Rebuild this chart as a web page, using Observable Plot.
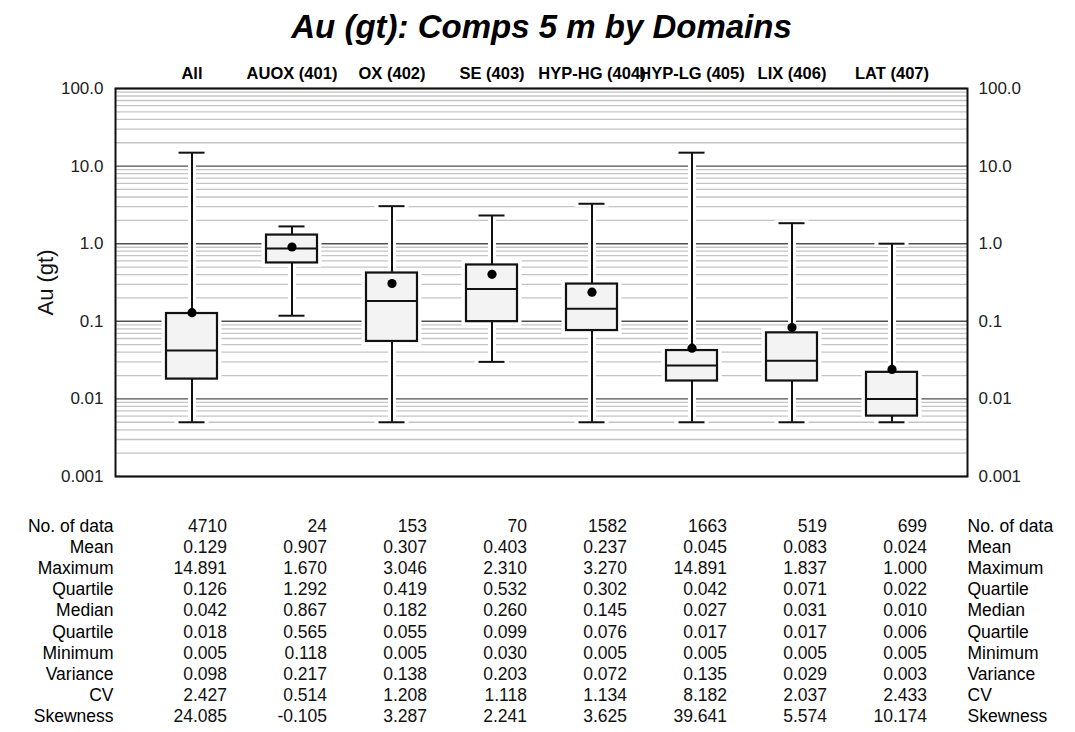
<!DOCTYPE html>
<html>
<head>
<meta charset="utf-8">
<script src="https://cdn.jsdelivr.net/npm/d3@7"></script>
<script src="https://cdn.jsdelivr.net/npm/@observablehq/plot@0.6"></script>
<style>
  html, body { margin: 0; padding: 0; background: #fff; }
  #chart svg { display: block; font-family: "Liberation Sans", Arial, Helvetica, sans-serif; }
</style>
</head>
<body>
<div id="chart"></div>
<script>
// Domains and per-domain statistics of Au (gt), 5 m composites
const domains = ["All", "AUOX (401)", "OX (402)", "SE (403)", "HYP-HG (404)", "HYP-LG (405)", "LIX (406)", "LAT (407)"];
const counts = [4710, 24, 153, 70, 1582, 1663, 519, 699];
const means = [0.129, 0.907, 0.307, 0.403, 0.237, 0.045, 0.083, 0.024];
const maxima = [14.891, 1.670, 3.046, 2.310, 3.270, 14.891, 1.837, 1.000];
const upperQuartiles = [0.126, 1.292, 0.419, 0.532, 0.302, 0.042, 0.071, 0.022];
const medians = [0.042, 0.867, 0.182, 0.260, 0.145, 0.027, 0.031, 0.010];
const lowerQuartiles = [0.018, 0.565, 0.055, 0.099, 0.076, 0.017, 0.017, 0.006];
const minima = [0.005, 0.118, 0.005, 0.030, 0.005, 0.005, 0.005, 0.005];
const variances = [0.098, 0.217, 0.138, 0.203, 0.072, 0.135, 0.029, 0.003];
const cvs = [2.427, 0.514, 1.208, 1.118, 1.134, 8.182, 2.037, 2.433];
const skewnesses = [24.085, -0.105, 3.287, 2.241, 3.625, 39.641, 5.574, 10.174];

// Axis ticks and their printed labels
const yTicks = [0.001, 0.01, 0.1, 1, 10, 100];
const yTickLabels = ["0.001", "0.01", "0.1", "1.0", "10.0", "100.0"];

const title = "Au (gt): Comps 5 m by Domains";
const yLabel = "Au (gt)";

// Statistics table below the plot
const rowLabels = ["No. of data", "Mean", "Maximum", "Quartile", "Median", "Quartile", "Minimum", "Variance", "CV", "Skewness"];
const rowValues = [counts, means, maxima, upperQuartiles, medians, lowerQuartiles, minima, variances, cvs, skewnesses];

const boxes = domains.map((d, i) => ({
  domain: d,
  min: minima[i], q1: lowerQuartiles[i], median: medians[i],
  q3: upperQuartiles[i], max: maxima[i], mean: means[i]
}));

// Light grid at 2..9 of each decade, darker grid at each decade
const minorGrid = d3.scaleLog().domain([0.001, 100]).ticks().filter(v => !yTicks.some(t => Math.abs(t - v) < t * 1e-9));

const fmt = (v, r) => r === 0 ? String(v) : v.toFixed(3);

const rowStep = 21.2;
const rowStart = 55;
const tableFont = 17.5;

const tableMarks = [];
rowValues.forEach((values, r) => {
  const rows = domains.map((d, i) => ({domain: d, text: fmt(values[i], r)}));
  tableMarks.push(
    Plot.text(rows, {x: "domain", text: "text", frameAnchor: "bottom", dy: rowStart + r * rowStep, dx: 35, textAnchor: "end", fontSize: tableFont, fill: "#111"}),
    Plot.text([rowLabels[r]], {text: d => d, frameAnchor: "bottom-left", dy: rowStart + r * rowStep, dx: -2, textAnchor: "end", fontSize: tableFont, fill: "#000"}),
    Plot.text([rowLabels[r]], {text: d => d, frameAnchor: "bottom-right", dy: rowStart + r * rowStep, dx: 0, textAnchor: "start", fontSize: tableFont, fill: "#000"})
  );
});

const capInset = 12.5;

const chart = Plot.plot({
  width: 1075,
  height: 732,
  marginLeft: 115,
  marginRight: 108,
  marginTop: 88,
  marginBottom: 256,
  style: {fontFamily: "'Liberation Sans', Arial, Helvetica, sans-serif", color: "#000", background: "#fff", overflow: "visible"},
  x: {type: "band", domain: domains, paddingInner: 0.49, paddingOuter: 0.5},
  y: {type: "log", domain: [0.001, 100]},
  marks: [
    Plot.ruleY(minorGrid, {stroke: "#c4c4c4", strokeWidth: 1.3}),
    Plot.ruleY(yTicks, {stroke: "#505050", strokeWidth: 1.4}),
    // white halos that break the grid around each box and whisker
    Plot.ruleX(boxes, {x: "domain", y1: "min", y2: "max", stroke: "#fff", strokeWidth: 8}),
    Plot.tickY(boxes, {x: "domain", y: "min", stroke: "#fff", strokeWidth: 6, insetLeft: capInset - 4, insetRight: capInset - 4}),
    Plot.tickY(boxes, {x: "domain", y: "max", stroke: "#fff", strokeWidth: 6, insetLeft: capInset - 4, insetRight: capInset - 4}),
    Plot.barY(boxes, {x: "domain", y1: "q1", y2: "q3", fill: "#fff", stroke: "#fff", strokeWidth: 9}),
    // whiskers and caps
    Plot.ruleX(boxes, {x: "domain", y1: "min", y2: "max", stroke: "#111", strokeWidth: 2}),
    Plot.tickY(boxes, {x: "domain", y: "min", stroke: "#111", strokeWidth: 2, insetLeft: capInset, insetRight: capInset}),
    Plot.tickY(boxes, {x: "domain", y: "max", stroke: "#111", strokeWidth: 2, insetLeft: capInset, insetRight: capInset}),
    // interquartile boxes, medians and means
    Plot.barY(boxes, {x: "domain", y1: "q1", y2: "q3", fill: "#f3f3f3", stroke: "#111", strokeWidth: 2.2}),
    Plot.tickY(boxes, {x: "domain", y: "median", stroke: "#111", strokeWidth: 2}),
    Plot.dot(boxes, {x: "domain", y: "mean", r: 4.6, fill: "#000", stroke: null}),
    Plot.frame({stroke: "#111", strokeWidth: 2}),
    Plot.axisY({anchor: "left", ticks: yTicks, tickFormat: d => yTickLabels[yTicks.indexOf(d)], tickSize: 0, tickPadding: 12, label: null, fontSize: 17, fill: "#222"}),
    Plot.axisY({anchor: "right", ticks: yTicks, tickFormat: d => yTickLabels[yTicks.indexOf(d)], tickSize: 0, tickPadding: 11, label: null, fontSize: 17, fill: "#222"}),
    Plot.axisX({anchor: "top", tickSize: 0, tickPadding: 10, label: null, fontSize: 16.5, fontWeight: "bold"}),
    Plot.text([yLabel], {text: d => d, frameAnchor: "left", dx: -70, rotate: -90, textAnchor: "middle", fontSize: 22, fill: "#111"}),
    Plot.text([title], {text: d => d, frameAnchor: "top", dy: -74, fontSize: 33, fontWeight: "bold", fontStyle: "italic", fill: "#000"}),
    ...tableMarks
  ]
});

document.getElementById("chart").append(chart);
</script>
</body>
</html>
